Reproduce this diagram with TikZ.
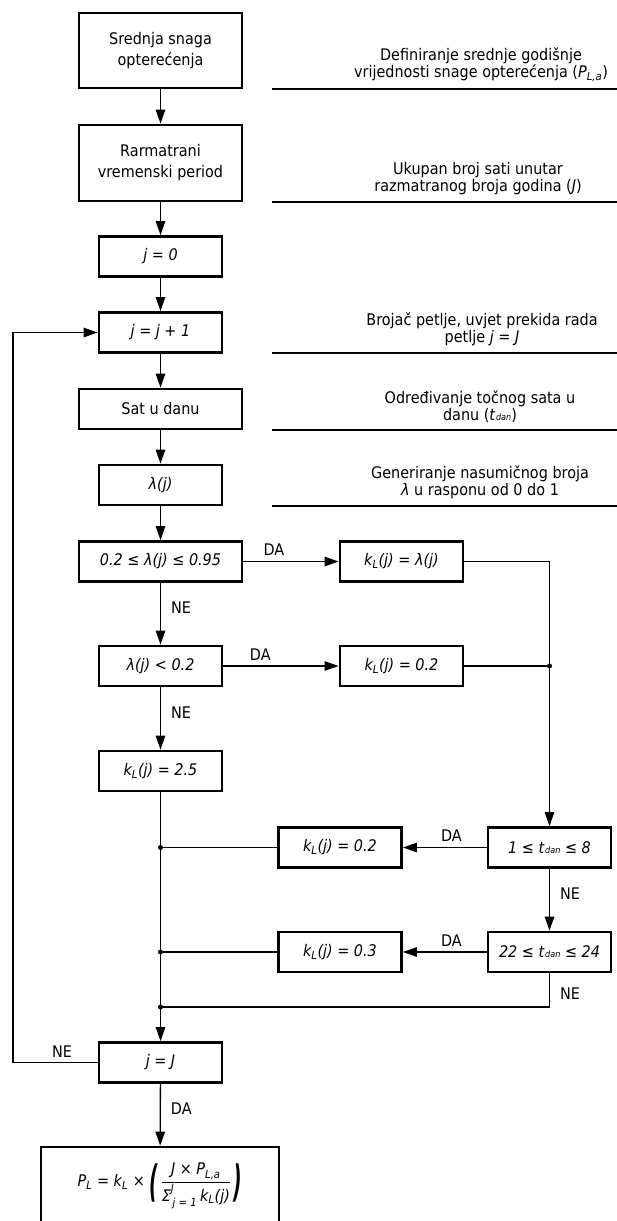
\documentclass[tikz,border=0pt]{standalone}
\usepackage{fontspec}
\setmainfont{DejaVu Sans}[FakeStretch=0.9]
\usepackage{amsmath}
\usepackage{graphicx}
\usetikzlibrary{arrows.meta}

\newcommand{\velicina}{\fontsize{16}{21}\selectfont}
\newcommand{\kL}{k\textsubscript{L}}
\newcommand{\tdan}{t\kern1pt{\fontsize{9}{9}\selectfont dan}}
\newcommand{\zagrada}[1]{\raisebox{-9.5pt}{\scalebox{1.3}[2.7]{\bfseries #1}}}

\begin{document}
\begin{tikzpicture}[x=1pt, y=-1pt,
    blok/.style={draw, line width=2.8pt, align=center, inner sep=2pt,
      minimum height=40pt, font=\velicina},
    uski/.style={blok, minimum width=123pt},
    siroki/.style={blok, minimum width=163pt},
    kurziv/.style={font=\velicina\itshape},
    tok/.style={line width=1.3pt},
    strelica/.style={tok, -{Triangle[length=14pt,width=9.5pt]}},
    oznaka/.style={inner sep=2pt, font=\velicina},
    opis/.style={align=center, anchor=south, inner sep=0pt,
      font=\fontsize{16}{17}\selectfont},
    crta/.style={line width=1.5pt}]
  \useasboundingbox (0,0) rectangle (617,1221);

  % glavni stupac
  \node[siroki, minimum height=75pt] (srednja) at (160.5,50.5) {Srednja snaga\\opterećenja};
  \node[siroki, minimum height=76pt] (period) at (160.5,163) {Rarmatrani\\vremenski period};
  \node[uski, kurziv] (jnula) at (160.5,256.5) {j = 0};
  \node[uski, kurziv] (jplus) at (160.5,332.5) {j = j + 1};
  \node[siroki] (sat) at (160.5,409) {Sat u danu};
  \node[uski, kurziv] (lambda) at (160.5,485) {λ(j)};
  \node[siroki, kurziv] (uvjet1) at (160.5,561.5) {0.2 ≤ λ(j) ≤ 0.95};
  \node[uski, kurziv] (uvjet2) at (160.5,666) {λ(j) < 0.2};
  \node[uski, kurziv] (kvelik) at (160.5,771) {\kL(j) = 2.5};
  \node[uski, kurziv] (jkraj) at (160.5,1062.5) {j = J};
  \node[blok, minimum width=238pt, minimum height=78pt] (snaga) at (160,1186)
    {\itshape P\textsubscript{L} = \kL{} × \zagrada{(}\,$\dfrac{\text{J × P}_{\text{L,a}}}{\text{Σ}^{\text{J}}_{\,\text{j = 1}}\,\text{k}_{\text{L}}\text{(j)}}$\,\zagrada{)}};

  % desni stupac
  \node[uski, kurziv] (klambda) at (401.5,561.5) {\kL(j) = λ(j)};
  \node[uski, kurziv] (kmali) at (401.5,666) {\kL(j) = 0.2};
  \node[uski, kurziv] (tnoc) at (549.5,847.5) {1 ≤ \tdan{} ≤ 8};
  \node[uski, kurziv] (tvecer) at (549.5,952) {22 ≤ \tdan{} ≤ 24};
  \node[uski, kurziv] (knoc) at (340,847.5) {\kL(j) = 0.2};
  \node[uski, kurziv] (kvecer) at (340,952) {\kL(j) = 0.3};

  % opisi
  \node[opis] (opis1) at (481,82) {Definiranje srednje godišnje\\vrijednosti snage opterećenja (\textit{P}\textsubscript{\textit{L,a}})};
  \node[opis] (opis2) at (478,195) {Ukupan broj sati unutar\\razmatranog broja godina (\textit{J})};
  \node[opis] (opis3) at (482,346) {Brojač petlje, uvjet prekida rada\\petlje \textit{j = J}};
  \node[opis] (opis4) at (480,423) {Određivanje točnog sata u\\danu (\textit{\tdan})};
  \node[opis] (opis5) at (480,499) {Generiranje nasumičnog broja\\\textit{λ} u rasponu od 0 do 1};
  \foreach \y in {89,202,353,430,506}
    \draw[crta] (272,\y) -- (617,\y);

  % veze
  \draw[strelica] (srednja) -- (period);
  \draw[strelica] (period) -- (jnula);
  \draw[strelica] (jnula) -- (jplus);
  \draw[strelica] (jplus) -- (sat);
  \draw[strelica] (sat) -- (lambda);
  \draw[strelica] (lambda) -- (uvjet1);
  \draw[strelica] (uvjet1) -- node[oznaka, right, pos=0.4, xshift=8pt] {NE} (uvjet2);
  \draw[strelica] (uvjet2) -- node[oznaka, right, pos=0.4, xshift=8pt] {NE} (kvelik);
  \draw[strelica] (uvjet1) -- node[oznaka, above, pos=0.32, yshift=3pt] {DA} (klambda);
  \draw[strelica] (uvjet2) -- node[oznaka, above, pos=0.32, yshift=3pt] {DA} (kmali);

  \coordinate (spoj1) at (kmali.east -| tnoc.north);
  \draw[strelica] (klambda.east) -| (tnoc.north);
  \draw[tok] (kmali.east) -- (spoj1);
  \fill (spoj1) circle (2.5pt);

  \draw[strelica] (tnoc) -- node[oznaka, above, pos=0.42, yshift=3pt] {DA} (knoc);
  \draw[strelica] (tnoc) -- node[oznaka, right, pos=0.4, xshift=8pt] {NE} (tvecer);
  \draw[strelica] (tvecer) -- node[oznaka, above, pos=0.42, yshift=3pt] {DA} (kvecer);

  \coordinate (spoj2) at (knoc.west -| kvelik.south);
  \coordinate (spoj3) at (kvecer.west -| kvelik.south);
  \coordinate (spoj4) at (160.5,1007);
  \draw[tok] (knoc.west) -- (spoj2);
  \draw[tok] (kvecer.west) -- (spoj3);
  \draw[tok] (tvecer.south) |- node[oznaka, right, pos=0.3, xshift=8pt] {NE} (spoj4);
  \draw[strelica] (kvelik) -- (jkraj);
  \foreach \s in {spoj2,spoj3,spoj4}
    \fill (\s) circle (2.5pt);

  \coordinate (petlja) at (13,1062.5);
  \draw[strelica] (jkraj.west) -- node[oznaka, above, pos=0.42, yshift=2pt] {NE} (petlja) |- (jplus.west);
  \draw[strelica] (jkraj) -- node[oznaka, right, pos=0.4, xshift=8pt] {DA} (snaga);
\end{tikzpicture}
\end{document}
